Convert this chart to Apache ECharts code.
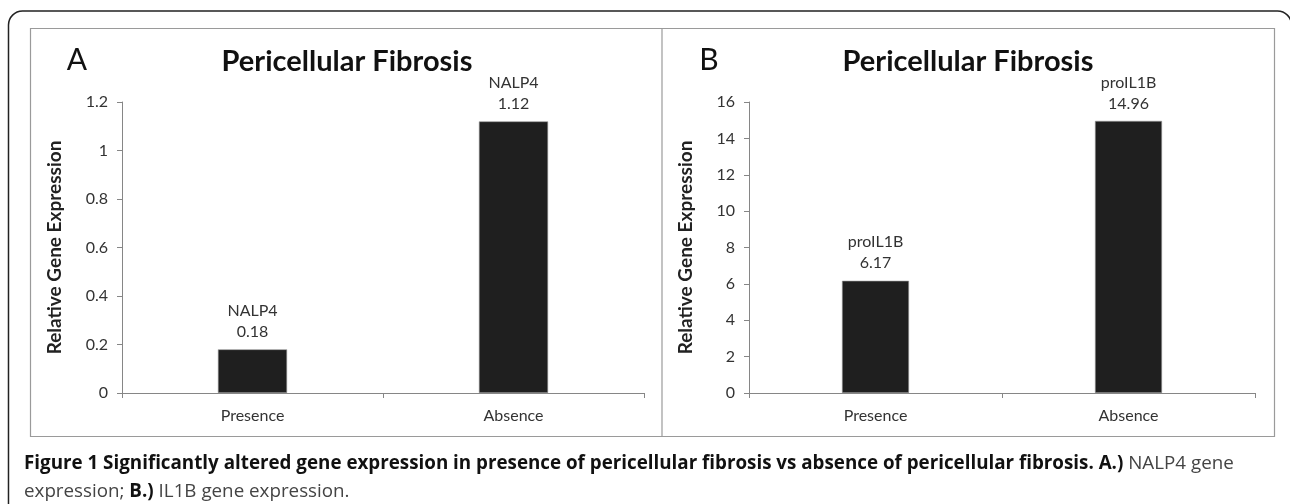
<!DOCTYPE html>
<html>
<head>
<meta charset="utf-8">
<script src="https://cdn.jsdelivr.net/npm/echarts@6/dist/echarts.min.js"></script>
<style>
html,body{margin:0;padding:0;background:#fff;}
#chart{width:1290px;height:504px;}
</style>
</head>
<body>
<div id="chart"></div>
<script>
// ---- data ----
const categories = ['Presence', 'Absence'];
const geneA = 'NALP4';
const valuesA = [0.18, 1.12];
const geneB = 'proIL1B';
const valuesB = [6.17, 14.96];
const yTicksA = { min: 0, max: 1.2, interval: 0.2 };
const yTicksB = { min: 0, max: 16, interval: 2 };
const panelTitle = 'Pericellular Fibrosis';
const yAxisTitle = 'Relative Gene Expression';
const panelLetters = ['A', 'B'];

// ---- chart ----
const chartFont = 'Lato';
const capFont = 'Open Sans';
const axisGray = '#868686';
const chart = echarts.init(document.getElementById('chart'), null, { renderer: 'canvas' });

function yAxis(ticks, gridIndex, nameGap) {
  return {
    type: 'value', gridIndex, min: ticks.min, max: ticks.max, interval: ticks.interval,
    name: yAxisTitle, nameLocation: 'middle', nameGap: nameGap, nameRotate: 90,
    nameTextStyle: { fontFamily: chartFont, fontWeight: 'bold', fontSize: 19, color: '#222' },
    axisLine: { show: true, lineStyle: { color: axisGray, width: 1 } },
    axisTick: { show: true, length: 5, lineStyle: { color: axisGray } },
    axisLabel: { margin: 14, fontFamily: chartFont, fontSize: 16, color: '#333' },
    splitLine: { show: false }
  };
}
function xAxis(gridIndex) {
  return {
    type: 'category', gridIndex, data: categories,
    axisLine: { show: true, lineStyle: { color: axisGray, width: 1 } },
    axisTick: { show: true, length: 5, lineStyle: { color: axisGray } },
    axisLabel: { margin: 15, fontFamily: chartFont, fontSize: 16, color: '#333' }
  };
}
function barSeries(values, gene, idx) {
  return {
    type: 'bar', xAxisIndex: idx, yAxisIndex: idx, data: values, barWidth: '26.5%',
    itemStyle: { color: '#1f1f1f', borderColor: '#9a9a9a', borderWidth: 0.6 },
    label: {
      show: true, position: 'top', distance: 7,
      fontFamily: chartFont, fontSize: 16, color: '#333', lineHeight: 21,
      formatter: p => gene + '\n' + p.value
    },
    silent: true, animation: false
  };
}

const option = {
  backgroundColor: '#fff',
  animation: false,
  grid: [
    { left: 122, top: 102, width: 522, height: 291 },
    { left: 749, top: 102, width: 506, height: 291 }
  ],
  xAxis: [xAxis(0), xAxis(1)],
  yAxis: [yAxis(yTicksA, 0, 58), yAxis(yTicksB, 1, 54)],
  series: [barSeries(valuesA, geneA, 0), barSeries(valuesB, geneB, 1)],
  graphic: [
    { type: 'rect', silent: true, z: -1, shape: { x: 8.5, y: 11, width: 1283, height: 530, r: 14 },
      style: { fill: 'none', stroke: '#222', lineWidth: 1.5 } },
    { type: 'rect', silent: true, shape: { x: 30.5, y: 28.5, width: 1244, height: 408 },
      style: { fill: 'none', stroke: '#9a9a9a', lineWidth: 1.2 } },
    { type: 'line', silent: true, shape: { x1: 662, y1: 28.5, x2: 662, y2: 436.5 },
      style: { stroke: '#9a9a9a', lineWidth: 1.2 } },
    { type: 'text', silent: true, x: 77, y: 60,
      style: { text: panelLetters[0], fontFamily: chartFont, fontSize: 30, fill: '#111', align: 'center', verticalAlign: 'middle' } },
    { type: 'text', silent: true, x: 709, y: 60,
      style: { text: panelLetters[1], fontFamily: chartFont, fontSize: 30, fill: '#111', align: 'center', verticalAlign: 'middle' } },
    { type: 'text', silent: true, x: 347, y: 62,
      style: { text: panelTitle, fontFamily: chartFont, fontWeight: 'bold', fontSize: 29, fill: '#111', align: 'center', verticalAlign: 'middle' } },
    { type: 'text', silent: true, x: 968, y: 62,
      style: { text: panelTitle, fontFamily: chartFont, fontWeight: 'bold', fontSize: 29, fill: '#111', align: 'center', verticalAlign: 'middle' } },
    { type: 'text', silent: true, x: 24, y: 464,
      style: {
        text: '{b|Figure 1 Significantly altered gene expression in presence of pericellular fibrosis vs absence of pericellular fibrosis. A.)}{n| NALP4 gene}',
        verticalAlign: 'middle',
        rich: {
          b: { fontFamily: capFont, fontWeight: 'bold', fontSize: 18.8, fill: '#111' },
          n: { fontFamily: capFont, fontSize: 18.8, fill: '#444' }
        }
      } },
    { type: 'text', silent: true, x: 24, y: 492,
      style: {
        text: '{n|expression; }{b|B.)}{n| IL1B gene expression.}',
        verticalAlign: 'middle',
        rich: {
          b: { fontFamily: capFont, fontWeight: 'bold', fontSize: 18.8, fill: '#111' },
          n: { fontFamily: capFont, fontSize: 18.8, fill: '#444' }
        }
      } }
  ]
};
chart.setOption(option);
</script>
</body>
</html>
